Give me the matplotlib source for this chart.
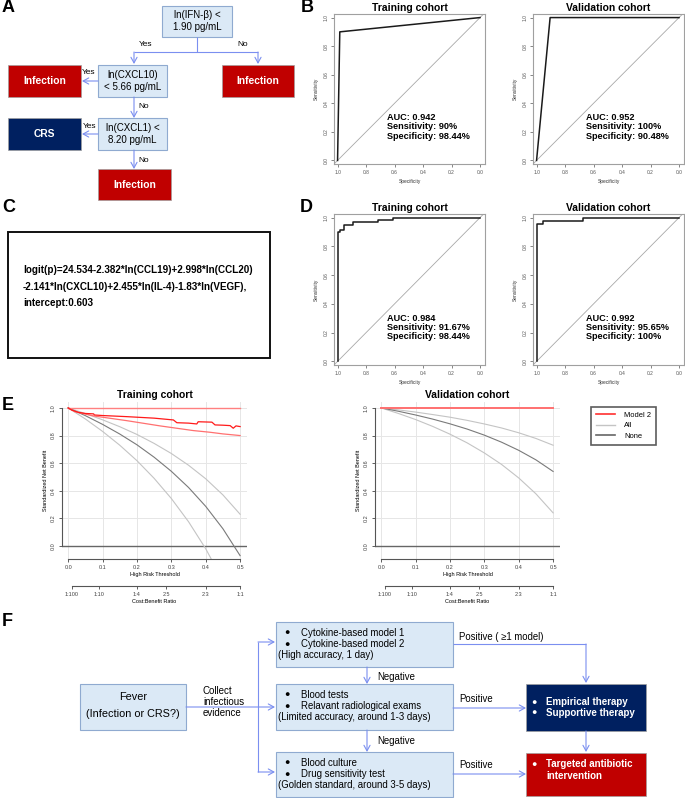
import matplotlib
matplotlib.use('Agg')
import matplotlib.pyplot as plt
from matplotlib.patches import Rectangle
from matplotlib.lines import Line2D

plt.rcParams['font.family'] = ['Liberation Sans', 'DejaVu Sans']

# ---------------- data ----------------
# Panel B ROC (specificity, sensitivity)
b_train_spec = [1.0, 0.9844, 0.0]
b_train_sens = [0.0, 0.90, 1.0]
b_val_spec = [1.0, 0.9048, 0.0]
b_val_sens = [0.0, 1.0, 1.0]
b_train_stats = ["0.942", "90%", "98.44%"]
b_val_stats = ["0.952", "100%", "90.48%"]

# Panel D ROC (stepped)
d_train_spec = [1.0, 1.0, 0.984, 0.984, 0.953, 0.953, 0.891, 0.891, 0.719, 0.719, 0.609, 0.609, 0.0]
d_train_sens = [0.0, 0.90, 0.90, 0.917, 0.917, 0.95, 0.95, 0.967, 0.967, 0.983, 0.983, 1.0, 1.0]
d_val_spec = [1.0, 1.0, 0.957, 0.957, 0.674, 0.674, 0.0]
d_val_sens = [0.0, 0.957, 0.957, 0.978, 0.978, 1.0, 1.0]
d_train_stats = ["0.984", "91.67%", "98.44%"]
d_val_stats = ["0.992", "95.65%", "100%"]

roc_ticks = [1.0, 0.8, 0.6, 0.4, 0.2, 0.0]

# Panel E decision curves
thr = [0.0, 0.05, 0.10, 0.15, 0.20, 0.25, 0.30, 0.35, 0.40, 0.45, 0.50]
tr_all_hi = [1.0, 0.959, 0.914, 0.864, 0.808, 0.743, 0.670, 0.585, 0.487, 0.370, 0.23]
tr_all_mid = [1.0, 0.944, 0.881, 0.811, 0.733, 0.643, 0.541, 0.424, 0.287, 0.125, -0.07]
tr_all_lo = [1.0, 0.920, 0.830, 0.730, 0.618, 0.490, 0.344, 0.176, -0.020, -0.252, -0.53]
tr_model_hi = [1.0, 1.0, 1.0, 1.0, 1.0, 1.0, 1.0, 1.0, 1.0, 1.0, 1.0]
tr_model_x = [0.0, 0.01, 0.03, 0.05, 0.074, 0.076, 0.10, 0.17, 0.25, 0.306, 0.316, 0.35, 0.374,
              0.378, 0.418, 0.427, 0.45, 0.471, 0.48, 0.488, 0.50]
tr_model_y = [1.0, 0.985, 0.968, 0.960, 0.957, 0.949, 0.945, 0.937, 0.926, 0.913, 0.893, 0.890,
              0.884, 0.900, 0.897, 0.877, 0.875, 0.872, 0.853, 0.870, 0.865]
tr_model_lo_x = [0.0, 0.02, 0.074, 0.17, 0.267, 0.364, 0.412, 0.45, 0.50]
tr_model_lo_y = [1.0, 0.972, 0.942, 0.908, 0.870, 0.836, 0.824, 0.812, 0.80]

va_all_hi = [1.0, 0.986, 0.970, 0.952, 0.933, 0.910, 0.884, 0.855, 0.820, 0.779, 0.73]
va_all_mid = [1.0, 0.976, 0.949, 0.919, 0.885, 0.847, 0.803, 0.752, 0.693, 0.624, 0.54]
va_all_lo = [1.0, 0.960, 0.916, 0.866, 0.810, 0.747, 0.674, 0.591, 0.493, 0.378, 0.24]
va_model = [1.0, 1.0, 1.0, 1.0, 1.0, 1.0, 1.0, 1.0, 1.0, 1.0, 1.0]
none_value = 0.0

dca_xticks = [0.0, 0.1, 0.2, 0.3, 0.4, 0.5]
dca_yticks = [0.0, 0.2, 0.4, 0.6, 0.8, 1.0]
cb_ticks = [0.0099, 0.0909, 0.2, 0.2857, 0.4, 0.5]
cb_labels = ["1:100", "1:10", "1:4", "2:5", "2:3", "1:1"]

# ---------------- figure ----------------
W, H = 685, 798
fig = plt.figure(figsize=(W / 100, H / 100), dpi=100)


def px_axes(x0, y0, x1, y1, **kw):
    return fig.add_axes([x0 / W, 1 - y1 / H, (x1 - x0) / W, (y1 - y0) / H], **kw)


ov = px_axes(0, 0, W, H)
ov.set_xlim(0, W)
ov.set_ylim(H, 0)
ov.axis('off')
ov.patch.set_alpha(0)

AC = '#7b8ff0'
LB = '#dbe9f6'
LBE = '#8faad0'
RED = '#c00000'
NAVY = '#002060'


def box(x0, y0, x1, y1, fc, ec, lw=0.8):
    ov.add_patch(Rectangle((x0, y0), x1 - x0, y1 - y0, fc=fc, ec=ec, lw=lw))


def arrow(x0, y0, x1, y1):
    ov.annotate('', xy=(x1, y1), xytext=(x0, y0),
                arrowprops=dict(arrowstyle='->,head_length=0.4,head_width=0.22', color=AC,
                                lw=0.8, shrinkA=0, shrinkB=0))


def line(xs, ys):
    ov.plot(xs, ys, color=AC, lw=0.8, solid_capstyle='butt')


def txt(x, y, s, size=7, **kw):
    kw.setdefault('ha', 'center')
    kw.setdefault('va', 'center')
    ov.text(x, y, s, fontsize=size, **kw)


# panel labels
for lab, x, y in [("A", 2, 8), ("B", 301, 8), ("C", 2, 208), ("D", 300, 207), ("E", 2, 405), ("F", 2, 622)]:
    txt(x, y, lab, size=13, fontweight='bold', ha='left')

# ---------- Panel A ----------
box(162, 6, 232, 37, LB, LBE)
txt(197, 21.5, "ln(IFN-β) <\n1.90 pg/mL", size=7, linespacing=1.25)
line([197, 197], [37, 52])
line([134, 258], [52, 52])
arrow(134, 52, 134, 64)
arrow(258, 52, 258, 64)
txt(146, 45, "Yes", size=6)
txt(243, 45, "No", size=6)
box(98, 65, 167, 97, LB, LBE)
txt(132.5, 81, "ln(CXCL10)\n< 5.66 pg/mL", size=7, linespacing=1.25)
box(8, 65, 81, 97, RED, '#a0a0a0', lw=0.5)
txt(44.5, 81, "Infection", size=7.4, color='white', fontweight='bold')
box(222, 65, 294, 97, RED, '#a0a0a0', lw=0.5)
txt(258, 81, "Infection", size=7.4, color='white', fontweight='bold')
arrow(98, 81, 82, 81)
txt(89, 72, "Yes", size=6)
arrow(134, 97, 134, 118)
txt(144, 107, "No", size=6)
box(98, 118, 167, 150, LB, LBE)
txt(132.5, 134, "ln(CXCL1) <\n8.20 pg/mL", size=7, linespacing=1.25)
box(8, 118, 81, 150, NAVY, '#a0a0a0', lw=0.5)
txt(44.5, 134, "CRS", size=7.4, color='white', fontweight='bold')
arrow(98, 134, 82, 134)
txt(90, 127, "Yes", size=6)
arrow(134, 150, 134, 169)
txt(144, 160, "No", size=6)
box(98, 169, 171, 200, RED, '#a0a0a0', lw=0.5)
txt(134.5, 184.5, "Infection", size=7.4, color='white', fontweight='bold')

# ---------- Panel C ----------
box(8, 232, 270, 358, 'white', '#111111', lw=1.4)
for yy, s in [(270, "logit(p)=24.534-2.382*ln(CCL19)+2.998*ln(CCL20)"),
              (287, "-2.141*ln(CXCL10)+2.455*ln(IL-4)-1.83*ln(VEGF),"),
              (303, "intercept:0.603")]:
    txt(23, yy, s, size=7.1, fontweight='bold', ha='left')


# ---------- ROC panels ----------
def roc(x0, y0, x1, y1, spec, sens, title, stats):
    ax = px_axes(x0, y0, x1, y1)
    ax.axline((1, 0), (0, 1), color='#a8a8a8', lw=0.6)
    ax.plot(spec, sens, color='#1a1a1a', lw=1.1)
    ax.set_xlim(1.025, -0.035)
    ax.set_ylim(-0.025, 1.025)
    ax.set_xticks(roc_ticks, [f"{t:.1f}" for t in roc_ticks])
    ax.set_yticks(roc_ticks, [f"{t:.1f}" for t in roc_ticks], rotation=90, va='center')
    ax.tick_params(labelsize=3.5, length=2, width=0.5, pad=2, colors='#555555')
    ax.set_xlabel("Specificity", fontsize=3.5, labelpad=3, color='#333333')
    ax.set_ylabel("Sensitivity", fontsize=3.5, labelpad=3, color='#333333')
    for sp in ax.spines.values():
        sp.set_color('#a0a0a0')
        sp.set_linewidth(0.8)
    ax.set_title(title, fontsize=7.5, fontweight='bold', pad=2)
    ax.text(0.655, 0.235, f"AUC: {stats[0]}\nSensitivity: {stats[1]}\nSpecificity: {stats[2]}",
            fontsize=6.6, fontweight='bold', ha='left', va='center', linespacing=1.05)
    return ax


roc(334, 14, 485, 164, b_train_spec, b_train_sens, "Training cohort", b_train_stats)
roc(533, 14, 684, 164, b_val_spec, b_val_sens, "Validation cohort", b_val_stats)
roc(334, 214, 485, 365, d_train_spec, d_train_sens, "Training cohort", d_train_stats)
roc(533, 214, 684, 365, d_val_spec, d_val_sens, "Validation cohort", d_val_stats)


# ---------- DCA panels ----------
def dca(x0, x1, title):
    y0, y1 = 402, 559
    ax = px_axes(x0, y0, x1, y1)
    ax.set_xlim(-0.018, 0.52)
    ax.set_ylim(-0.094, 1.043)
    ax.set_xticks(dca_xticks, [f"{t:.1f}" for t in dca_xticks])
    ax.set_yticks(dca_yticks, [f"{t:.1f}" for t in dca_yticks], rotation=90, va='center')
    ax.grid(color='#e6e6e6', lw=0.7)
    ax.set_axisbelow(True)
    for s in ['top', 'right']:
        ax.spines[s].set_visible(False)
    ax.spines['left'].set_bounds(0, 1)
    ax.spines['bottom'].set_bounds(0, 0.5)
    for s in ['left', 'bottom']:
        ax.spines[s].set_color('#555555')
        ax.spines[s].set_linewidth(0.8)
    ax.tick_params(labelsize=4, length=2.5, width=0.6, pad=2, colors='#444444')
    ax.set_xlabel("High Risk Threshold", fontsize=4, labelpad=1.5)
    ax.set_ylabel("Standardized Net Benefit", fontsize=4, labelpad=2)
    ax.set_title(title, fontsize=7.5, fontweight='bold', pad=3)
    sec = ax.secondary_xaxis(-(586 - y1) / (y1 - y0))
    sec.set_xticks(cb_ticks, cb_labels)
    sec.spines['bottom'].set_bounds(cb_ticks[0], cb_ticks[-1])
    sec.spines['bottom'].set_color('#555555')
    sec.spines['bottom'].set_linewidth(0.8)
    sec.tick_params(labelsize=4, length=2.5, width=0.6, pad=2, colors='#444444')
    sec.set_xlabel("Cost:Benefit Ratio", fontsize=4, labelpad=1)
    ax.axhline(none_value, color='#666666', lw=1.0)
    return ax


axL = dca(62, 247, "Training cohort")
axL.plot(thr, tr_all_hi, color='#c4c4c4', lw=0.8)
axL.plot(thr, tr_all_lo, color='#c4c4c4', lw=0.8)
axL.plot(thr, tr_all_mid, color='#7a7a7a', lw=0.8)
axL.plot(thr, tr_model_hi, color='#ff8080', lw=1.0)
axL.plot(tr_model_lo_x, tr_model_lo_y, color='#ff7070', lw=0.9)
axL.plot(tr_model_x, tr_model_y, color='#ff1a1a', lw=0.9)

axR = dca(375, 560, "Validation cohort")
axR.plot(thr, va_all_hi, color='#c4c4c4', lw=0.8)
axR.plot(thr, va_all_lo, color='#c4c4c4', lw=0.8)
axR.plot(thr, va_all_mid, color='#7a7a7a', lw=0.8)
axR.plot(thr, va_model, color='#ff7070', lw=1.4)

handles = [Line2D([], [], color='#ff3030', lw=1.2), Line2D([], [], color='#c4c4c4', lw=1.0),
           Line2D([], [], color='#666666', lw=1.2)]
leg = fig.legend(handles, ["Model 2", "All", "None"], loc='upper left',
                 bbox_to_anchor=(591 / W, 1 - 407 / H), fontsize=5.4, frameon=True,
                 fancybox=False, edgecolor='#333333', handlelength=2.6, handletextpad=1.2,
                 borderpad=0.6, labelspacing=0.45, borderaxespad=0)
leg.get_frame().set_linewidth(1.2)

# ---------- Panel F ----------
box(80, 684, 186, 730, LB, LBE)
txt(133, 697, "Fever", size=7.8)
txt(133, 714, "(Infection or CRS?)", size=7.8)
txt(203, 702, "Collect\ninfectious\nevidence", size=7, ha='left', linespacing=1.15)
arrow(186, 707, 275, 707)
line([258, 258], [642, 772])
arrow(258, 642, 275, 642)
arrow(258, 772, 275, 772)

fbox = [(622, 667, ["Cytokine-based model 1", "Cytokine-based model 2"], "(High accuracy, 1 day)"),
        (684, 730, ["Blood tests", "Relavant radiological exams"], "(Limited accuracy, around 1-3 days)"),
        (752, 797, ["Blood culture", "Drug sensitivity test"], "(Golden standard, around 3-5 days)")]
for y0, y1, items, note in fbox:
    box(276, y0, 453, y1, LB, LBE)
    for i, s in enumerate(items):
        yy = y0 + 10.5 + i * 11.5
        txt(287, yy, "●", size=6.5)
        txt(301, yy, s, size=6.9, ha='left')
    txt(278, y0 + 33.5, note, size=6.9, ha='left')

arrow(367, 667, 367, 684)
txt(377, 677, "Negative", size=6.9, ha='left')
arrow(367, 730, 367, 752)
txt(377, 741, "Negative", size=6.9, ha='left')

txt(459, 637, "Positive ( ≥1 model)", size=6.9, ha='left')
line([453, 586], [644, 644])
arrow(586, 644, 586, 683)
box(526, 684, 646, 731, NAVY, '#a0a0a0', lw=0.5)
for yy, s in [(702, "Empirical therapy"), (713, "Supportive therapy")]:
    txt(534, yy, "●", size=6.5, color='white')
    txt(546, yy, s, size=7, ha='left', color='white', fontweight='bold')
txt(459, 699, "Positive", size=6.9, ha='left')
arrow(453, 708, 526, 708)
arrow(586, 731, 586, 752)
box(526, 753, 646, 796, RED, '#a0a0a0', lw=0.5)
txt(534, 764, "●", size=6.5, color='white')
txt(546, 764, "Targeted antibiotic", size=7, ha='left', color='white', fontweight='bold')
txt(546, 776, "intervention", size=7, ha='left', color='white', fontweight='bold')
txt(459, 765, "Positive", size=6.9, ha='left')
arrow(453, 774, 526, 774)

fig.savefig("out.png", dpi=100)
